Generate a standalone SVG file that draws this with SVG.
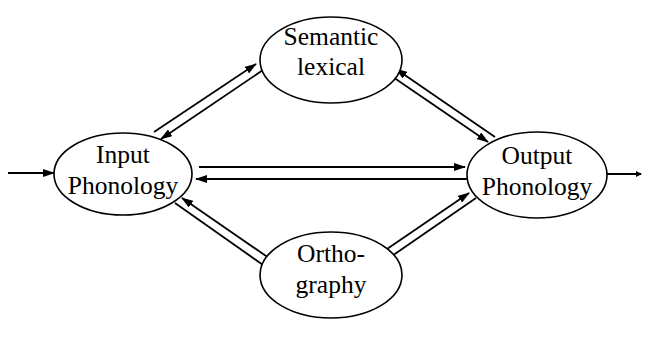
<svg xmlns="http://www.w3.org/2000/svg" width="645" height="338" viewBox="0 0 645 338">
<style>
.n{fill:#fff;stroke:#000;stroke-width:1.6}
.t{font-family:"Liberation Serif","Times New Roman",serif;font-size:25.5px;text-anchor:middle;fill:#000}
.c line{stroke:#000;stroke-width:1.8;marker-end:url(#a)}
.c line.s{marker-end:url(#b)}
</style>
<defs>
<marker id="a" markerUnits="userSpaceOnUse" markerWidth="12" markerHeight="8" viewBox="0 0 12 8" refX="11" refY="4" orient="auto">
<path d="M0,0 L12,4 L0,8 Z" fill="#000"/>
</marker>
<marker id="b" markerUnits="userSpaceOnUse" markerWidth="6" markerHeight="6" viewBox="0 0 6 6" refX="5" refY="3" orient="auto">
<path d="M0,0 L6,3 L0,6 Z" fill="#000"/>
</marker>
</defs>
<g class="c" id="connectors">
<line x1="8" y1="173" x2="54" y2="173"/>
<line class="s" x1="607" y1="174" x2="641" y2="174"/>
<line x1="199" y1="167" x2="465" y2="167"/>
<line x1="470" y1="179" x2="196" y2="179"/>
<line x1="154" y1="132" x2="256" y2="64"/>
<line x1="263" y1="70" x2="161" y2="139"/>
<line x1="387" y1="73" x2="488" y2="142"/>
<line x1="495" y1="137" x2="396" y2="69"/>
<line x1="175" y1="203" x2="273" y2="272"/>
<line x1="282" y1="267" x2="182" y2="198"/>
<line x1="368" y1="262" x2="469" y2="193"/>
<line x1="476" y1="198" x2="376" y2="267"/>
</g>
<g id="input">
<ellipse class="n" cx="123" cy="174" rx="69" ry="41"/>
<text class="t" x="123" y="163">Input</text>
<text class="t" x="123" y="194">Phonology</text>
</g>
<g id="output">
<ellipse class="n" cx="537" cy="175" rx="70" ry="43"/>
<text class="t" x="537" y="164">Output</text>
<text class="t" x="537" y="195">Phonology</text>
</g>
<g id="semantic">
<ellipse class="n" cx="331" cy="60" rx="71" ry="43"/>
<text class="t" x="331" y="45">Semantic</text>
<text class="t" x="331" y="75">lexical</text>
</g>
<g id="ortho">
<ellipse class="n" cx="331" cy="275" rx="71" ry="43"/>
<text class="t" x="331" y="262">Ortho-</text>
<text class="t" x="331" y="293">graphy</text>
</g>
</svg>
